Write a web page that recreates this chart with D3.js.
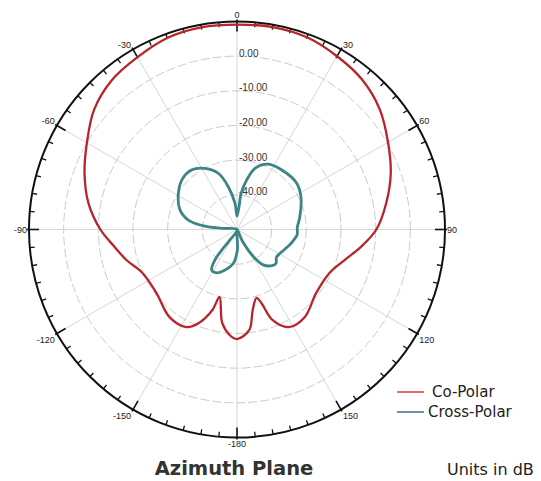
<!DOCTYPE html>
<html>
<head>
<meta charset="utf-8">
<script src="https://cdn.jsdelivr.net/npm/d3@7"></script>
<style>
  html, body { margin: 0; padding: 0; background: #ffffff; }
  svg { display: block; }
</style>
</head>
<body>
<script>
// ---------- data ----------
const coAngles = [-180, -176, -171, -165.5, -163, -158, -152.6, -142.4, -128.3, -114.7, -105.4, -98, -90, -80, -70, -60, -50, -40, -30, -20, -10, 0, 10, 20, 30, 40, 50, 60, 70, 80, 90, 98, 106, 115, 129, 142, 152, 158.6, 161.6, 164, 169, 173];
const coValues = [-18.4, -19.5, -22.7, -29.9, -25.7, -21.0, -18.3, -18.1, -20.4, -20.0, -16.9, -14.3, -10.6, -6.5, -3.2, 0.0, 3.8, 6.2, 7.4, 8.8, 9.2, 9.1, 9.3, 9.0, 7.7, 6.3, 3.8, 0.3, -2.8, -6.3, -9.8, -13.9, -17.8, -20.5, -20.7, -18.1, -18.1, -22.0, -27.6, -29.5, -26.3, -20.8];

const crossAngles = [0, 5, 6.5, 11, 16.4, 25.5, 37, 52, 63, 78.5, 88, 95, 105, 119, 125, 131, 136, 143.5, 149, 155, 160, 178, 179, -174, -163.5, -155, -148, -144, -143.5, -146, -120, -85.5, -84, -79, -71, -61, -48, -37, -27.6, -18.4, -11.5, -4.4];
const crossValues = [-46.1, -43.4, -39.5, -35.5, -31.6, -29.1, -28.5, -28.2, -29.3, -31.5, -32.6, -32.6, -34.0, -35.8, -36.1, -35.1, -35.5, -37.3, -40.9, -46.0, -50, -46.0, -44.1, -40.2, -37.8, -36.2, -36.2, -39.2, -42.6, -46.4, -50, -45.6, -40.7, -35.7, -32.6, -30.6, -28.6, -28.4, -30.1, -32.9, -37.4, -42.4];

const ringValues = [0, -10, -20, -30, -40];
const ringLabels = ["0.00", "-10.00", "-20.00", "-30.00", "-40.00"];
const spokeAngles = [0, 30, 60, 90, 120, 150, 180, -150, -120, -90, -60, -30];
const spokeLabels = ["0", "30", "60", "90", "120", "150", "-180", "-150", "-120", "-90", "-60", "-30"];
const dbDomain = [-50, 10];
const seriesNames = ["Co-Polar", "Cross-Polar"];

// ---------- layout ----------
const W = 541, H = 481;
const cx = 237, cy = 229.5, R = 208;
const rad = d => d * Math.PI / 180;

const svg = d3.select("body").append("svg").attr("width", W).attr("height", H);
const r = d3.scaleLinear().domain(dbDomain).range([0, R]);
const g = svg.append("g").attr("transform", `translate(${cx},${cy})`);

// rings
g.selectAll("circle.ring").data(ringValues).join("circle")
  .attr("r", d => r(d)).attr("fill", "none")
  .attr("stroke", "#b4b4b4").attr("stroke-width", 0.7)
  .attr("stroke-dasharray", "9,3");

// spokes
g.selectAll("line.spoke").data(spokeAngles).join("line")
  .attr("x1", 0).attr("y1", 0)
  .attr("x2", d => R * Math.sin(rad(d))).attr("y2", d => -R * Math.cos(rad(d)))
  .attr("stroke", "#cccccc").attr("stroke-width", 0.8);

// ring labels
g.selectAll("text.ringlab").data(ringValues).join("text")
  .attr("x", 2).attr("y", d => -r(d) + 0.5)
  .attr("font-family", "Liberation Sans, Arial, sans-serif")
  .attr("font-size", 10).attr("fill", "#333")
  .text((d, i) => ringLabels[i]);

// outer circle
g.append("circle").attr("r", R).attr("fill", "none")
  .attr("stroke", "#111").attr("stroke-width", 2);

// ticks
const tickAngles = d3.range(-175, 181, 5);
g.selectAll("line.tick").data(tickAngles).join("line")
  .attr("x1", d => (d % 30 === 0 ? R + 2 : R) * Math.sin(rad(d)))
  .attr("y1", d => -(d % 30 === 0 ? R + 2 : R) * Math.cos(rad(d)))
  .attr("x2", d => (d % 30 === 0 ? R - 10 : R - 5) * Math.sin(rad(d)))
  .attr("y2", d => -(d % 30 === 0 ? R - 10 : R - 5) * Math.cos(rad(d)))
  .attr("stroke", "#111").attr("stroke-width", d => d % 30 === 0 ? 1.6 : 1.3);

// angle labels
g.selectAll("text.anglab").data(spokeAngles).join("text")
  .attr("x", d => {
    const s = Math.sin(rad(d));
    return R * s + (Math.abs(s) < 0.01 ? 0 : (s > 0 ? 2 : -2));
  })
  .attr("y", d => {
    const c = Math.cos(rad(d));
    const off = Math.abs(c) > 0.99 ? (c > 0 ? -6.5 : 6.5) : (c > 0.01 ? -4.8 : (c < -0.01 ? 6.2 : 0));
    return -R * c + off;
  })
  .attr("text-anchor", d => {
    const s = Math.sin(rad(d));
    return Math.abs(s) < 0.01 ? "middle" : (s > 0 ? "start" : "end");
  })
  .attr("dominant-baseline", "central")
  .attr("font-family", "Liberation Sans, Arial, sans-serif")
  .attr("font-size", 9).attr("fill", "#222")
  .text((d, i) => spokeLabels[i]);

// curves
const line = d3.lineRadial()
  .angle(d => rad(d[0]))
  .radius(d => r(Math.max(dbDomain[0], d[1])))
  .curve(d3.curveCatmullRomClosed.alpha(0.5));

const coData = coAngles.map((a, i) => [a, coValues[i]]);
const crossData = crossAngles.map((a, i) => [a, crossValues[i]]);

g.append("path").attr("d", line(crossData)).attr("fill", "none")
  .attr("stroke", "#3d8584").attr("stroke-width", 2.8).attr("stroke-linejoin", "round");
g.append("path").attr("d", line(coData)).attr("fill", "none")
  .attr("stroke", "#b8242b").attr("stroke-width", 2.3).attr("stroke-linejoin", "round");

// legend
const legColors = ["#d33a3a", "#3f6f8e"];
const leg = svg.append("g");
leg.selectAll("line").data(seriesNames).join("line")
  .attr("x1", 397).attr("x2", 424)
  .attr("y1", (d, i) => 392 + i * 20).attr("y2", (d, i) => 392 + i * 20)
  .attr("stroke", (d, i) => legColors[i]).attr("stroke-width", 1.5);
leg.selectAll("text").data(seriesNames).join("text")
  .attr("x", (d, i) => i === 0 ? 432 : 428)
  .attr("y", (d, i) => 397 + i * 20)
  .attr("font-family", "URW Gothic, Century Gothic, DejaVu Sans, sans-serif")
  .attr("font-size", 15).attr("fill", "#222")
  .text(d => d);

// titles
svg.append("text").attr("x", 234).attr("y", 475).attr("text-anchor", "middle")
  .attr("font-family", "DejaVu Sans, sans-serif").attr("font-weight", "bold")
  .attr("font-size", 19.5).attr("fill", "#333").text("Azimuth Plane");
svg.append("text").attr("x", 447).attr("y", 475)
  .attr("font-family", "DejaVu Sans, sans-serif")
  .attr("font-size", 16).attr("fill", "#222").text("Units in dB");
</script>
</body>
</html>
